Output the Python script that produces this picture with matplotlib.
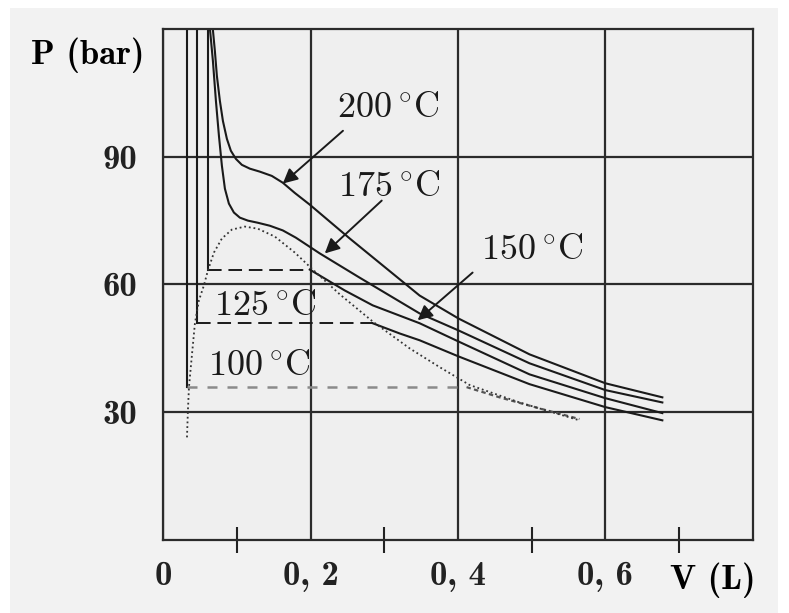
import matplotlib
matplotlib.use("Agg")
import matplotlib.pyplot as plt
from matplotlib.patches import Rectangle

# isothermes (V en L, P en bar)
v200 = [0.0671, 0.0698, 0.0725, 0.0766, 0.0807, 0.0861, 0.0915, 0.0983, 0.1064, 0.1173,
        0.1308, 0.1471, 0.1620, 0.1783, 0.1986, 0.2529, 0.3478, 0.4007, 0.4969, 0.6000, 0.6773]
p200 = [119.8, 114.8, 109.0, 103.1, 98.4, 94.2, 91.4, 89.5, 88.1, 87.2,
        86.5, 85.5, 83.9, 81.5, 78.75, 70.8, 57.4, 52.0, 43.6, 36.8, 33.5]

v175 = [0.0631, 0.0671, 0.0712, 0.0753, 0.0793, 0.0834, 0.0888, 0.0956, 0.1037, 0.1146,
        0.1281, 0.1444, 0.1620, 0.1797, 0.2122, 0.2664, 0.3478, 0.4007, 0.4969, 0.6000, 0.6773]
p175 = [120.0, 112.5, 103.1, 94.9, 87.9, 82.5, 79.0, 76.9, 75.7, 75.0,
        74.5, 73.8, 72.7, 71.0, 67.3, 61.6, 53.2, 49.2, 41.5, 35.2, 32.3]

# branche liquide, palier, branche vapeur
v150_liq = [0.0603, 0.0603]
p150_liq = [120.0, 63.5]
v150_sat = [0.0603, 0.1986]
p150_sat = [63.5, 63.5]
v150 = [0.1986, 0.2190, 0.2461, 0.2841, 0.3478, 0.4007, 0.4969, 0.6000, 0.6773]
p150 = [63.5, 61.4, 58.6, 55.1, 50.9, 46.6, 38.9, 33.3, 29.8]

v125_liq = [0.0454, 0.0454]
p125_liq = [120.0, 50.9]
v125_sat = [0.0454, 0.2841]
p125_sat = [50.9, 50.9]
v125 = [0.2841, 0.3207, 0.3478, 0.4007, 0.4969, 0.6000, 0.6773]
p125 = [50.9, 48.5, 46.9, 43.1, 36.6, 31.2, 28.1]

v100_liq = [0.0319, 0.0319]
p100_liq = [120.0, 35.9]
v100_sat = [0.0319, 0.4115]
p100_sat = [35.9, 35.9]
v100 = [0.4115, 0.4563, 0.5105, 0.5647]
p100 = [35.9, 33.5, 30.9, 28.4]

# courbe de saturation (pointillés)
v_dome = [0.0319, 0.0332, 0.0346, 0.0386, 0.0427, 0.0481, 0.0549, 0.0603, 0.0685, 0.0793,
          0.0929, 0.1105, 0.1281, 0.1512, 0.1783, 0.2027, 0.2393, 0.2841, 0.3342, 0.3749,
          0.4156, 0.4834, 0.5647]
p_dome = [24.1, 30.5, 35.9, 43.4, 50.9, 56.25, 59.8, 63.3, 67.5, 70.8,
          72.9, 73.6, 73.1, 71.25, 67.5, 63.5, 57.7, 51.3, 45.0, 40.6,
          36.4, 32.3, 28.1]

x_major = [0, 0.2, 0.4, 0.6]
x_labels = ["0", "0, 2", "0, 4", "0, 6"]
x_minor = [0.1, 0.3, 0.5, 0.7]
y_major = [30, 60, 90]
y_labels = ["30", "60", "90"]

plt.rcParams["mathtext.fontset"] = "cm"

fig = plt.figure(figsize=(7.89, 6.13), dpi=100, facecolor="white")
fig.patches.append(Rectangle((10 / 789, 0), 768 / 789, 605 / 613, transform=fig.transFigure,
                             facecolor="#f2f2f2", edgecolor="none", zorder=-10))
ax = fig.add_axes([0.2072, 0.1191, 0.7468, 0.8336])
ax.set_facecolor("#efefef")
ax.set_xlim(0, 0.8)
ax.set_ylim(0, 120)

lc = "#1a1a1a"
lw = 1.5
ax.plot(v200, p200, color=lc, lw=lw)
ax.plot(v175, p175, color=lc, lw=lw)
for vl, pl, vs, ps, vv, pv in [(v150_liq, p150_liq, v150_sat, p150_sat, v150, p150),
                               (v125_liq, p125_liq, v125_sat, p125_sat, v125, p125)]:
    ax.plot(vl, pl, color=lc, lw=lw)
    ax.plot(vs, ps, color=lc, lw=1.4, dashes=(7, 3.5))
    ax.plot(vv, pv, color=lc, lw=lw)
ax.plot(v100_liq, p100_liq, color=lc, lw=lw)
ax.plot(v100_sat, p100_sat, color="#8a8a8a", lw=1.8, dashes=(4, 4))
ax.plot(v100, p100, color="#555555", lw=1.6, dashes=(2, 1.5))
ax.plot(v_dome, p_dome, color="#333333", lw=1.3, ls=(0, (1, 1.6)))

# grille et cadre
for s in ax.spines.values():
    s.set_linewidth(1.6)
    s.set_color("#2b2b2b")
ax.set_xticks(x_major)
ax.set_xticklabels(x_labels, fontfamily="cmb10", fontsize=25)
ax.set_yticks(y_major)
ax.set_yticklabels(y_labels, fontfamily="cmb10", fontsize=25)
ax.set_xticks(x_minor, minor=True)
ax.grid(True, which="major", color="#2b2b2b", lw=1.6)
ax.tick_params(which="major", length=0, pad=15, colors="#222222")
ax.tick_params(axis="y", which="major", pad=19)
ax.tick_params(which="minor", direction="inout", length=19, width=1.5, color="#222222")
ax.set_axisbelow(True)

fig.text(0.1115, 0.910, "P (bar)", fontfamily="cmb10", fontsize=25, ha="center", va="center")
fig.text(0.9037, 0.0538, "V (L)", fontfamily="cmb10", fontsize=25, ha="center", va="center")

# étiquettes des isothermes
lab_kw = dict(fontsize=26, ha="center", va="center", color="#1a1a1a")
ax.text(0.3044, 101.7, r"$200\,^{\circ}\mathrm{C}$", **lab_kw)
ax.text(0.3058, 83.2, r"$175\,^{\circ}\mathrm{C}$", **lab_kw)
ax.text(0.4997, 68.4, r"$150\,^{\circ}\mathrm{C}$", **lab_kw)
ax.text(0.1376, 55.1, r"$125\,^{\circ}\mathrm{C}$", **lab_kw)
ax.text(0.1295, 41.0, r"$100\,^{\circ}\mathrm{C}$", **lab_kw)

arr = dict(arrowstyle="-|>", color="#1a1a1a", lw=1.4, mutation_scale=22, shrinkA=0, shrinkB=0)
ax.annotate("", xy=(0.1620, 83.7), xytext=(0.2437, 96.1), arrowprops=arr)
ax.annotate("", xy=(0.2190, 67.3), xytext=(0.2963, 79.7), arrowprops=arr)
ax.annotate("", xy=(0.3451, 51.6), xytext=(0.4197, 62.8), arrowprops=arr)

fig.savefig("out.png", dpi=100)
